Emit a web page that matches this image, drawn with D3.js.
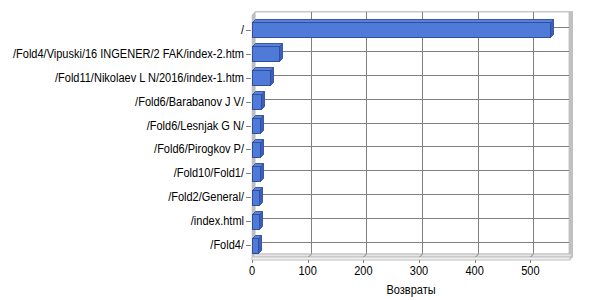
<!DOCTYPE html>
<html>
<head>
<meta charset="utf-8">
<script src="https://cdn.jsdelivr.net/npm/d3@7"></script>
<style>
  body { margin: 0; background: #fff; }
  text { font-family: "Liberation Sans", Arial, sans-serif; font-size: 12px; fill: #000; }
</style>
</head>
<body>
<div id="canvas"></div>
<script>
var width = 600;
var height = 300;

// data
var pages = ["/", "/Fold4/Vipuski/16 INGENER/2 FAK/index-2.htm", "/Fold11/Nikolaev L N/2016/index-1.htm",
  "/Fold6/Barabanov J V/", "/Fold6/Lesnjak G N/", "/Fold6/Pirogkov P/", "/Fold10/Fold1/",
  "/Fold2/General/", "/index.html", "/Fold4/"];
var returns = [535, 49, 33, 16, 15, 14, 14, 13, 12, 11];
var xTicks = [0, 100, 200, 300, 400, 500];
var xTitle = "Возвраты";

var svg = d3.select("#canvas").append("svg")
  .attr("width", width)
  .attr("height", height)

var dep = 3;               // 3d depth offset
var pLeft = 252, pRight = 566, pTop = 15, pBottom = 257;

var x = d3.scaleLinear().domain([0, 564]).range([pLeft, pRight]);
var y = d3.scaleBand().domain(pages).range([pTop + 3, pBottom]).paddingInner(0.37).paddingOuter(0.18);

// back wall
svg.append("rect")
  .attr("x", pLeft + dep).attr("y", pTop - dep)
  .attr("width", pRight - pLeft).attr("height", pBottom - pTop)
  .attr("fill", "#fff").attr("stroke", "#c8c8c8");
// right edge of wall
svg.append("rect")
  .attr("x", pRight + dep).attr("y", pTop - dep - 1)
  .attr("width", 4).attr("height", pBottom - pTop + 2)
  .attr("fill", "#c0c0c0");
// top edge
svg.append("rect")
  .attr("x", pLeft + dep).attr("y", pTop - dep - 1)
  .attr("width", pRight - pLeft + 4).attr("height", 1)
  .attr("fill", "#c8c8c8");
// left wall
svg.append("polygon")
  .attr("points", [[pLeft, pTop], [pLeft + dep, pTop - dep], [pLeft + dep, pBottom - dep], [pLeft, pBottom]].join(" "))
  .attr("fill", "#c0c0c0").attr("stroke", "#b4b4b4").attr("stroke-width", 0.5);

// grid
svg.selectAll(".vgrid").data(xTicks.slice(1)).enter().append("line")
  .attr("class", "vgrid")
  .attr("x1", d => Math.round(x(d)) + dep + 0.5).attr("x2", d => Math.round(x(d)) + dep + 0.5)
  .attr("y1", pTop - dep).attr("y2", pBottom - dep)
  .attr("stroke", "#808080");
svg.selectAll(".hgrid").data(pages).enter().append("line")
  .attr("class", "hgrid")
  .attr("x1", pLeft + dep).attr("x2", pRight + dep)
  .attr("y1", d => Math.round(y(d) + y.bandwidth() / 2) - dep + 0.5)
  .attr("y2", d => Math.round(y(d) + y.bandwidth() / 2) - dep + 0.5)
  .attr("stroke", "#808080");

// floor
svg.append("polygon")
  .attr("points", [[pLeft, pBottom], [pLeft + dep, pBottom - dep], [pRight + dep + 4, pBottom - dep], [pRight + 4, pBottom]].join(" "))
  .attr("fill", "#e4e4e4").attr("stroke", "#c0c0c0");
svg.append("polygon")
  .attr("points", [[pLeft, pBottom], [pRight + 4, pBottom], [pRight + 4, pBottom + 3], [pLeft, pBottom + 3]].join(" "))
  .attr("fill", "#f0f0f0").attr("stroke", "#c0c0c0");
svg.append("polygon")
  .attr("points", [[pRight + 4, pBottom], [pRight + dep + 4, pBottom - dep], [pRight + dep + 4, pBottom], [pRight + 4, pBottom + 3]].join(" "))
  .attr("fill", "#c0c0c0");
svg.selectAll(".fgrid").data(xTicks.slice(1)).enter().append("line")
  .attr("class", "fgrid")
  .attr("x1", d => Math.round(x(d)) + dep + 0.5).attr("y1", pBottom - dep)
  .attr("x2", d => Math.round(x(d)) + 0.5).attr("y2", pBottom)
  .attr("stroke", "#808080");

// bars
var bars = svg.selectAll(".bar").data(pages).enter().append("g").attr("class", "bar");
bars.append("polygon")
  .attr("points", (d, i) => {
    var t = Math.round(y(d)) + 0.5, x1 = Math.round(x(returns[i])) + 0.5;
    return [[pLeft + 0.5, t], [pLeft + 0.5 + dep, t - dep], [x1 + dep, t - dep], [x1, t]].join(" ");
  })
  .attr("fill", "#5a82dc").attr("stroke", "#3a58a8");
bars.append("polygon")
  .attr("points", (d, i) => {
    var t = Math.round(y(d)) + 0.5, b = t + Math.round(y.bandwidth()), x1 = Math.round(x(returns[i])) + 0.5;
    return [[x1, t], [x1 + dep, t - dep], [x1 + dep, b - dep], [x1, b]].join(" ");
  })
  .attr("fill", "#3d5fb6").attr("stroke", "#3a58a8");
bars.append("rect")
  .attr("x", pLeft + 0.5)
  .attr("y", d => Math.round(y(d)) + 0.5)
  .attr("width", (d, i) => Math.round(x(returns[i])) - pLeft)
  .attr("height", Math.round(y.bandwidth()))
  .attr("fill", "#4f7ad8").attr("stroke", "#2f4f9f");

// y axis labels + ticks
svg.selectAll(".ytick").data(pages).enter().append("line")
  .attr("class", "ytick")
  .attr("x1", pLeft - 6).attr("x2", pLeft - 1)
  .attr("y1", d => Math.round(y(d) + y.bandwidth() / 2) + 0.5)
  .attr("y2", d => Math.round(y(d) + y.bandwidth() / 2) + 0.5)
  .attr("stroke", "#808080");
var ylabs = svg.selectAll(".ylab").data(pages).enter().append("text")
  .attr("class", "ylab")
  .attr("x", pLeft - 8)
  .attr("y", d => y(d) + y.bandwidth() / 2 + 4)
  .attr("text-anchor", "end")
  .text(d => d);

// x axis labels
svg.selectAll(".xtick").data(xTicks).enter().append("line")
  .attr("class", "xtick")
  .attr("x1", d => Math.round(x(d)) + 0.5).attr("x2", d => Math.round(x(d)) + 0.5)
  .attr("y1", pBottom + 3).attr("y2", pBottom + 6)
  .attr("stroke", "#808080");
svg.selectAll(".xlab").data(xTicks).enter().append("text")
  .attr("class", "xlab")
  .attr("x", d => x(d))
  .attr("y", 275)
  .attr("text-anchor", "middle")
  .text(d => d);

svg.append("text")
  .attr("x", (pLeft + pRight) / 2 + 2)
  .attr("y", 294)
  .attr("text-anchor", "middle")
  .text(xTitle);

// squeeze text horizontally to match the narrower original font
var longest = d3.max(ylabs.nodes(), n => n.getComputedTextLength());
var squeeze = 231 / longest;
svg.selectAll("text").each(function() {
  var len = this.getComputedTextLength();
  d3.select(this).attr("textLength", len * squeeze).attr("lengthAdjust", "spacingAndGlyphs");
});
</script>
</body>
</html>
